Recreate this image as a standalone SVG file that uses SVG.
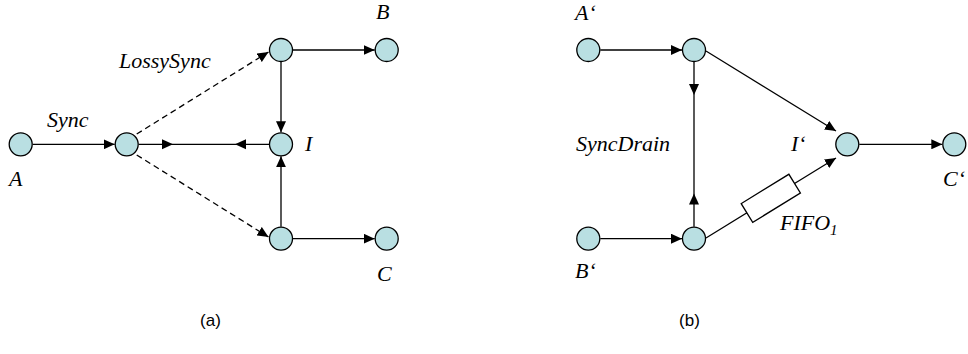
<svg xmlns="http://www.w3.org/2000/svg" width="968" height="354" viewBox="0 0 968 354">
<style>
.n{fill:#B9DFE2;stroke:#000;stroke-width:1.3}
.e{fill:none;stroke:#000;stroke-width:1.3}
.d{stroke-dasharray:6,4}
.h{fill:#000;stroke:none}
.t{font-family:"Liberation Serif","Times New Roman",serif;font-style:italic;font-size:22px;fill:#000}
.c{font-family:"Liberation Sans",Arial,sans-serif;font-size:17px;fill:#000}
</style>
<defs>
<marker id="ar" markerUnits="userSpaceOnUse" markerWidth="11" markerHeight="10" refX="11" refY="5" orient="auto">
<path d="M0,0 L11,5 L0,10 z" fill="#000"/>
</marker>
</defs>
<g id="connectors">
<line class="e" x1="32.7" y1="144.3" x2="114.7" y2="144.3" marker-end="url(#ar)"/>
<line class="e" x1="138.7" y1="144.3" x2="269" y2="144.3"/>
<path class="h" d="M162,139.3 L173,144.3 L162,149.3 z"/>
<path class="h" d="M246,139.3 L235,144.3 L246,149.3 z"/>
<line class="e d" x1="136.7" y1="134" x2="268.5" y2="52" marker-end="url(#ar)"/>
<line class="e d" x1="136.7" y1="155" x2="268.5" y2="237" marker-end="url(#ar)"/>
<line class="e" x1="293" y1="50" x2="374.7" y2="50" marker-end="url(#ar)"/>
<line class="e" x1="281" y1="62" x2="281" y2="132.3" marker-end="url(#ar)"/>
<line class="e" x1="281" y1="226.7" x2="281" y2="156.3" marker-end="url(#ar)"/>
<line class="e" x1="293" y1="238.7" x2="374.7" y2="238.7" marker-end="url(#ar)"/>
<line class="e" x1="600.3" y1="50" x2="682" y2="50" marker-end="url(#ar)"/>
<line class="e" x1="600.3" y1="238.7" x2="682" y2="238.7" marker-end="url(#ar)"/>
<line class="e" x1="694" y1="62" x2="694" y2="226.7"/>
<path class="h" d="M689,84 L694,95 L699,84 z"/>
<path class="h" d="M689,204.5 L694,193.5 L699,204.5 z"/>
<line class="e" x1="706" y1="51" x2="836" y2="131" marker-end="url(#ar)"/>
<line class="e" x1="706" y1="238" x2="836" y2="158" marker-end="url(#ar)"/>
<rect x="-28" y="-11" width="56" height="22" fill="#fff" stroke="#000" stroke-width="1.3" transform="translate(770.8 198.3) rotate(-31.6)"/>
<line class="e" x1="859.3" y1="144.3" x2="942.3" y2="144.3" marker-end="url(#ar)"/>
</g>
<g id="nA"><circle class="n" cx="20.7" cy="144.3" r="11.5"/><text class="t" x="9" y="186">A</text></g>
<g id="nJ"><circle class="n" cx="126.7" cy="144.3" r="11.5"/></g>
<g id="nT"><circle class="n" cx="281" cy="50" r="11.5"/></g>
<g id="nB"><circle class="n" cx="386.7" cy="50" r="11.5"/><text class="t" x="376" y="19">B</text></g>
<g id="nI"><circle class="n" cx="281" cy="144.3" r="11.5"/><text class="t" x="305" y="151">I</text></g>
<g id="nBot"><circle class="n" cx="281" cy="238.7" r="11.5"/></g>
<g id="nC"><circle class="n" cx="386.7" cy="238.7" r="11.5"/><text class="t" x="377" y="281">C</text></g>
<text class="t" x="47" y="127">Sync</text>
<text class="t" x="119" y="68">LossySync</text>
<g id="nA2"><circle class="n" cx="588.3" cy="50" r="11.5"/><text class="t" x="575" y="20">A‘</text></g>
<g id="nJT"><circle class="n" cx="694" cy="50" r="11.5"/></g>
<g id="nB2"><circle class="n" cx="588.3" cy="238.7" r="11.5"/><text class="t" x="575" y="278">B‘</text></g>
<g id="nJB"><circle class="n" cx="694" cy="238.7" r="11.5"/></g>
<g id="nI2"><circle class="n" cx="847.3" cy="144.3" r="11.5"/><text class="t" x="791" y="151">I‘</text></g>
<g id="nC2"><circle class="n" cx="954.3" cy="144.3" r="11.5"/><text class="t" x="943" y="186">C‘</text></g>
<text class="t" x="576" y="151">SyncDrain</text>
<text class="t" x="780" y="230">FIFO<tspan font-size="15" dy="5">1</tspan></text>
<text class="c" x="210.5" y="326" text-anchor="middle">(a)</text>
<text class="c" x="689.5" y="326" text-anchor="middle">(b)</text>
</svg>
